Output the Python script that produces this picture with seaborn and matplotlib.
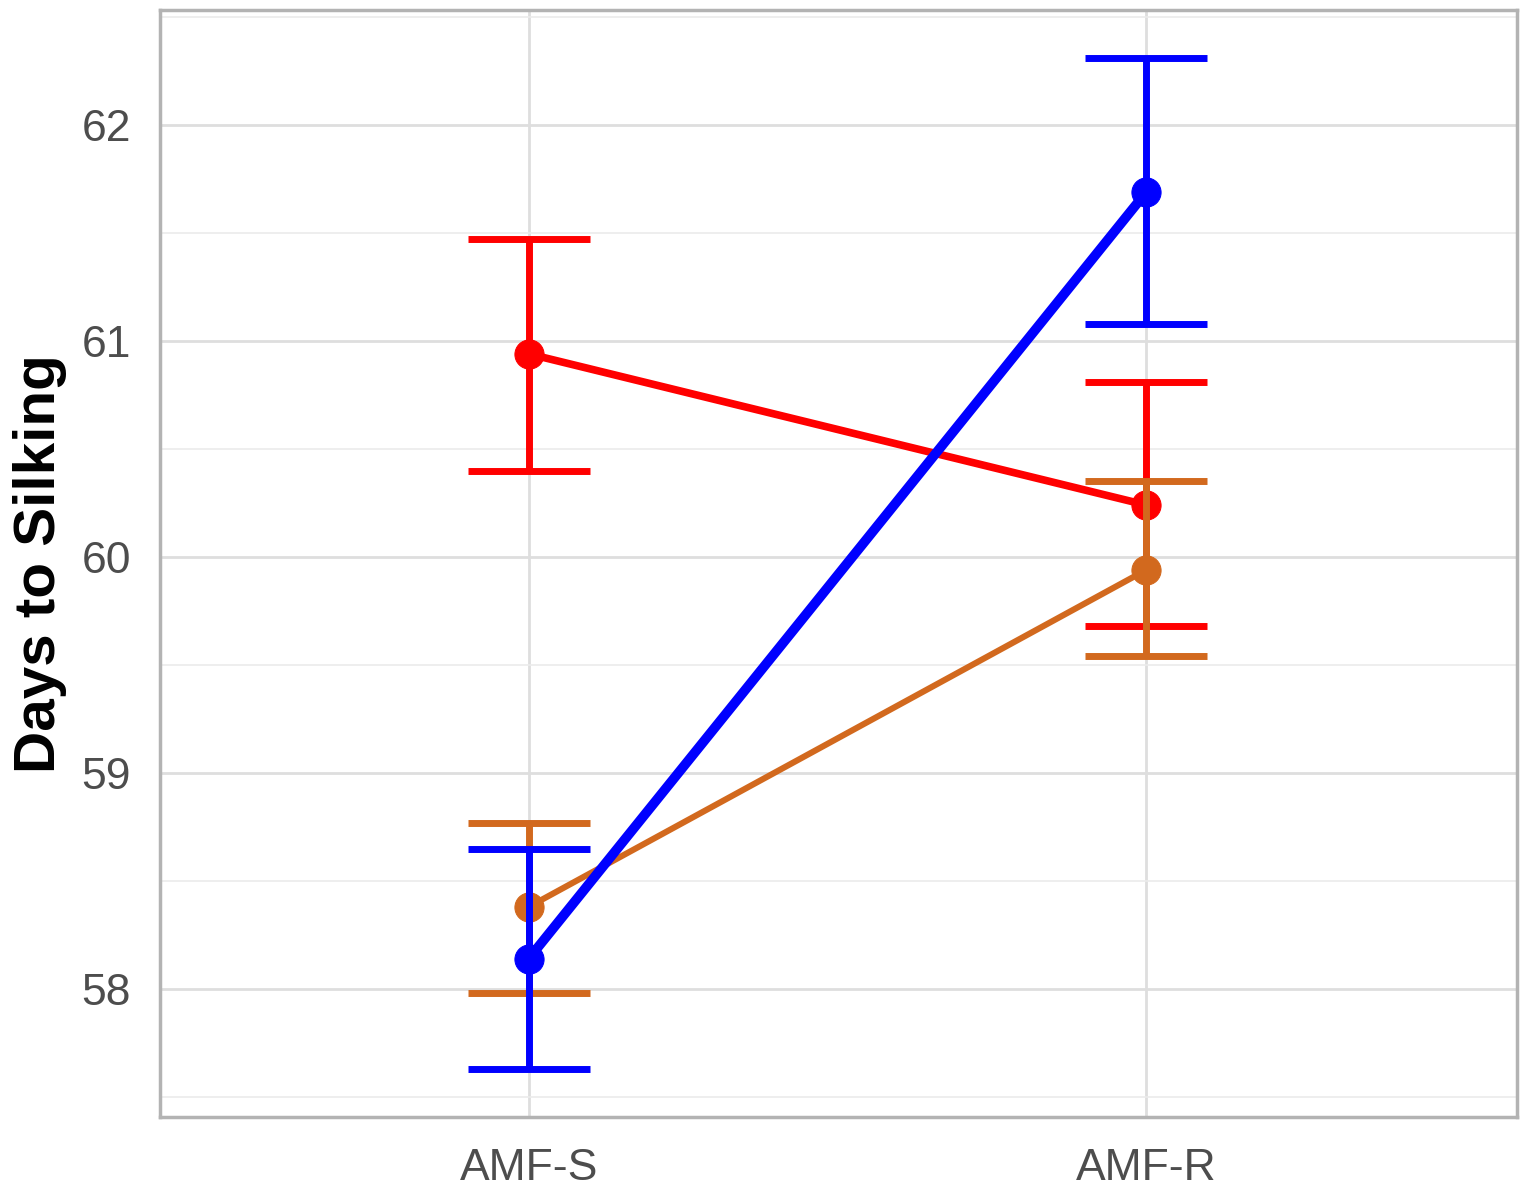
import matplotlib
matplotlib.use("Agg")
import matplotlib.pyplot as plt
import pandas as pd
import seaborn as sns
from matplotlib.ticker import MultipleLocator

groups = ["AMF-S", "AMF-R"]

red_mean = [60.94, 60.24]
red_lo = [60.40, 59.68]
red_hi = [61.47, 60.81]

orange_mean = [58.38, 59.94]
orange_lo = [57.98, 59.54]
orange_hi = [58.77, 60.35]

blue_mean = [58.14, 61.69]
blue_lo = [57.63, 61.08]
blue_hi = [58.65, 62.31]

series = [
    ("red", "#FF0000", red_mean, red_lo, red_hi, 5.5),
    ("orange", "#D2691E", orange_mean, orange_lo, orange_hi, 4.4),
    ("blue", "#0000FF", blue_mean, blue_lo, blue_hi, 7.0),
]

sns.set_theme(style="white")
plt.rcParams["font.family"] = ["Liberation Sans", "DejaVu Sans"]

fig, ax = plt.subplots(figsize=(15.27, 11.92), dpi=100)
fig.subplots_adjust(left=160 / 1527, right=1517 / 1527, top=1 - 10 / 1192, bottom=1 - 1117 / 1192)

for i, (name, col, mean, lo, hi, lw) in enumerate(series):
    df = pd.DataFrame({"group": groups, "value": mean})
    z = 3 + i * 2
    err = [[m - l for m, l in zip(mean, lo)], [h - m for m, h in zip(mean, hi)]]
    ax.errorbar(groups, mean, yerr=err, fmt="none", ecolor=col, elinewidth=5,
                capsize=44, capthick=5, zorder=z)
    sns.lineplot(data=df, x="group", y="value", color=col, lw=lw, marker="o",
                 ms=21, mec=col, ax=ax, zorder=z + 1, sort=False)

ax.set_xlim(-0.597, 1.6)
ax.set_ylim(57.407, 62.532)
ax.yaxis.set_major_locator(MultipleLocator(1))
ax.yaxis.set_minor_locator(MultipleLocator(0.5))
ax.grid(True, which="major", color="#DEDEDE", lw=2)
ax.grid(True, which="minor", axis="y", color="#EBEBEB", lw=1.2)
ax.set_axisbelow(True)

for sp in ax.spines.values():
    sp.set_color("#B3B3B3")
    sp.set_linewidth(2.5)

ax.tick_params(axis="both", which="major", length=7, width=2, color="#B3B3B3",
               labelsize=32, labelcolor="#4D4D4D")
ax.tick_params(axis="y", which="major", pad=14)
ax.tick_params(axis="x", which="major", pad=15)
ax.tick_params(axis="both", which="minor", length=0)

ax.set_xlabel("")
ax.set_ylabel("Days to Silking", fontsize=42, fontweight="bold", color="black", labelpad=10)

fig.savefig("out.png", dpi=100)
